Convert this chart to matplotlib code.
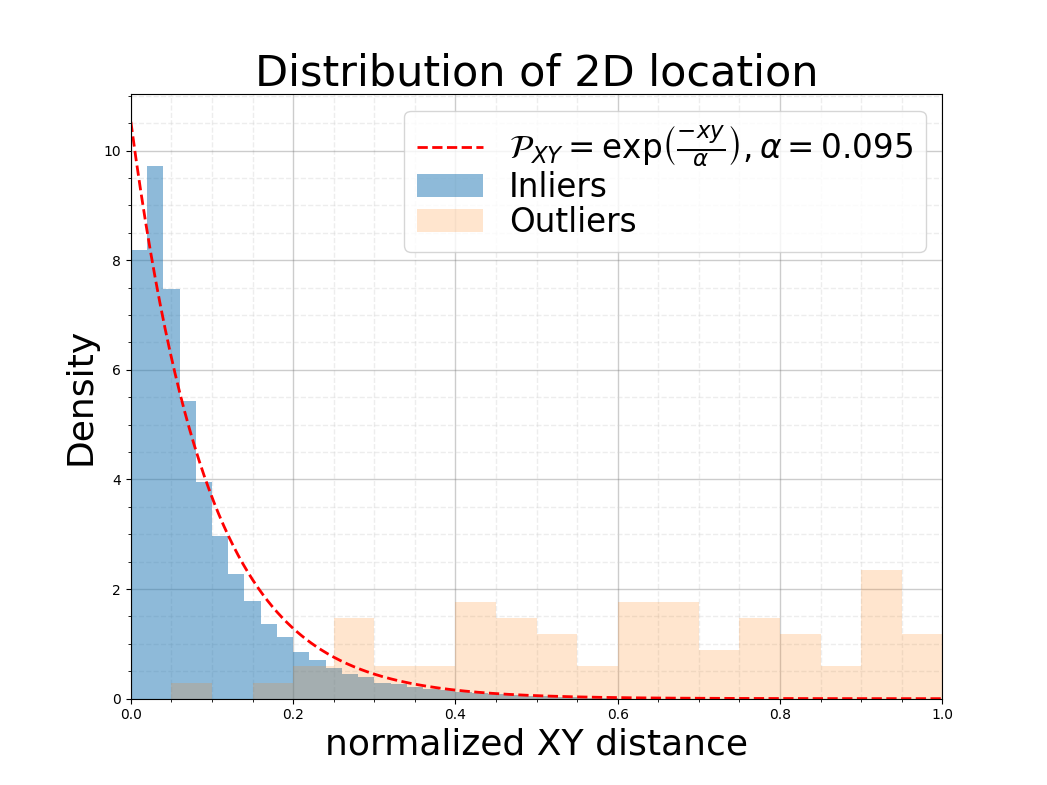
import numpy as np
import matplotlib
matplotlib.use('Agg')
import matplotlib.pyplot as plt
from matplotlib.ticker import MultipleLocator

# inliers: density per bin of width 0.02, starting at 0
inlier_edges = np.round(np.arange(0, 0.62, 0.02), 2)
inlier_density = [8.19, 9.72, 7.47, 5.44, 3.95, 2.97, 2.27, 1.78, 1.36, 1.13,
                  0.86, 0.71, 0.56, 0.45, 0.39, 0.29, 0.26, 0.22, 0.18, 0.15,
                  0.12, 0.10, 0.08, 0.07, 0.05, 0.04, 0.03, 0.03, 0.02, 0.02]

# outliers: density per bin of width 0.05
outlier_edges = np.round(np.arange(0, 1.05, 0.05), 2)
outlier_density = [0.0, 0.29, 0.0, 0.29, 0.59, 1.47, 0.59, 0.59, 1.76, 1.47,
                   1.18, 0.59, 1.76, 1.76, 0.88, 1.47, 1.18, 0.59, 2.35, 1.18]

alpha = 0.095

fig, ax = plt.subplots(figsize=(10.47, 7.85), dpi=100)

ax.hist(inlier_edges[:-1], bins=inlier_edges, weights=inlier_density,
        color='C0', alpha=0.5, label='Inliers')
ax.hist(outlier_edges[:-1], bins=outlier_edges, weights=outlier_density,
        color='C1', alpha=0.2, label='Outliers')

xs = np.linspace(0, 1, 500)
ax.plot(xs, np.exp(-xs / alpha) / alpha, 'r--', lw=2,
        label=r'$\mathcal{P}_{XY} = \mathrm{exp}\left(\frac{-xy}{\alpha}\right), \alpha = 0.095$')

ax.set_xlim(0, 1)
ax.set_ylim(0, 11.03)
ax.xaxis.set_major_locator(MultipleLocator(0.2))
ax.xaxis.set_minor_locator(MultipleLocator(0.05))
ax.yaxis.set_major_locator(MultipleLocator(2))
ax.yaxis.set_minor_locator(MultipleLocator(0.5))
ax.grid(which='major', color='grey', alpha=0.4, lw=1)
ax.grid(which='minor', color='lightgrey', alpha=0.4, ls='--', lw=1)
ax.set_axisbelow(True)

ax.set_title('Distribution of 2D location', fontsize=31)
ax.set_xlabel('normalized XY distance', fontsize=26)
ax.set_ylabel('Density', fontsize=26)

# line first, then the two histograms
handles, labels = ax.get_legend_handles_labels()
order = [2, 0, 1]
ax.legend([handles[i] for i in order], [labels[i] for i in order],
          fontsize=23.5, loc='upper right', labelspacing=0.05)

plt.savefig('out.png')
